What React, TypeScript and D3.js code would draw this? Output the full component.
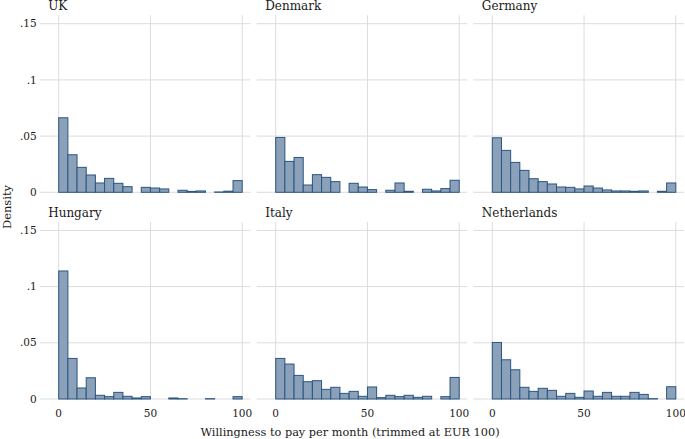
import React from "react";
import * as d3 from "d3";

const countries = ["UK", "Denmark", "Germany", "Hungary", "Italy", "Netherlands"];
const binEdges = d3.range(0, 100, 5);
const xTicks = [0, 50, 100];
const yTicks = [0, 0.05, 0.1, 0.15];
const yTickLabels = ["0", ".05", ".1", ".15"];

const ukValues = [0.0663, 0.0334, 0.0222, 0.0154, 0.0083, 0.0124, 0.008, 0.005, 0, 0.0044, 0.0038, 0.003, 0, 0.0018, 0.0008, 0.0012, 0, 0.0003, 0.001, 0.0104];
const denmarkValues = [0.0488, 0.0275, 0.031, 0.0065, 0.0157, 0.0133, 0.0095, 0, 0.008, 0.0047, 0.0024, 0, 0.0018, 0.0083, 0.0009, 0, 0.0027, 0.0012, 0.0033, 0.0107];
const germanyValues = [0.0485, 0.0373, 0.0266, 0.0195, 0.0121, 0.0095, 0.0074, 0.0047, 0.0044, 0.003, 0.0056, 0.0038, 0.0021, 0.0012, 0.0012, 0.0009, 0.0012, 0, 0.0009, 0.0083];
const hungaryValues = [0.1139, 0.0361, 0.0098, 0.0189, 0.0033, 0.0021, 0.0059, 0.0024, 0.0009, 0.0021, 0, 0, 0.0009, 0.0003, 0, 0, 0.0003, 0, 0, 0.0021];
const italyValues = [0.0361, 0.0311, 0.021, 0.0154, 0.0163, 0.0086, 0.0104, 0.005, 0.0068, 0.0024, 0.0107, 0.0012, 0.0033, 0.0021, 0.0033, 0.0015, 0.0024, 0, 0.0021, 0.0192];
const netherlandsValues = [0.0503, 0.0349, 0.026, 0.0104, 0.0068, 0.0095, 0.0077, 0.0024, 0.005, 0.0015, 0.0071, 0.0024, 0.0059, 0.0024, 0.0024, 0.0059, 0.0041, 0.0003, 0, 0.0109];

const seriesValues = [ukValues, denmarkValues, germanyValues, hungaryValues, italyValues, netherlandsValues];

const FONT = "'DejaVu Serif', serif";
const colX0 = [58.7, 275.7, 492.3];
const rowY0 = [192.3, 399];
const panelW = 183.5;
const panelH = 168.6; // height for .15

function Panel({ idx }: { idx: number }) {
  const col = idx % 3;
  const row = Math.floor(idx / 3);
  const x = d3.scaleLinear().domain([0, 100]).range([colX0[col], colX0[col] + panelW]);
  const y = d3.scaleLinear().domain([0, 0.15]).range([rowY0[row], rowY0[row] - panelH]);
  const values = seriesValues[idx];
  const gx0 = x(0) - 19;
  const gx1 = x(100) + 8;
  const top = y(0.15) - 8.5;
  return (
    <g>
      {yTicks.map((t) => (
        <line key={"h" + t} x1={gx0} x2={gx1} y1={y(t)} y2={y(t)} stroke="#dcdcdc" strokeWidth={1} />
      ))}
      {xTicks.map((t) => (
        <line key={"v" + t} x1={x(t)} x2={x(t)} y1={top} y2={y(0)} stroke="#dcdcdc" strokeWidth={1} />
      ))}
      {values.map((v, i) =>
        v > 0 ? (
          <rect
            key={i}
            x={x(binEdges[i])}
            width={x(binEdges[i] + 5) - x(binEdges[i])}
            y={y(v)}
            height={y(0) - y(v)}
            fill="#8aa1b9"
            stroke="#2b5581"
            strokeWidth={1}
          />
        ) : null
      )}
      <text x={gx0 + 8.5} y={rowY0[row] - 182.5} fontFamily={FONT} fontSize={12} fill="#1a1a1a">
        {countries[idx]}
      </text>
      {col === 0 &&
        yTicks.map((t, i) => (
          <text key={"yl" + t} x={x(0) - 22} y={y(t)} dy="0.35em" textAnchor="end" fontFamily={FONT} fontSize={10.5} fill="#1a1a1a">
            {yTickLabels[i]}
          </text>
        ))}
      {row === 1 &&
        xTicks.map((t) => (
          <text key={"xl" + t} x={x(t)} y={y(0) + 18} textAnchor="middle" fontFamily={FONT} fontSize={10.5} fill="#1a1a1a">
            {t}
          </text>
        ))}
    </g>
  );
}

export default function App() {
  return (
    <svg width={685} height={439} style={{ position: "absolute", left: 0, top: 0, background: "#fff" }}>
      <rect x={0} y={0} width={685} height={439} fill="#fff" />
      {countries.map((c, i) => (
        <Panel key={c} idx={i} />
      ))}
      <text x={350} y={436} textAnchor="middle" fontFamily={FONT} fontSize={11.3} fill="#1a1a1a">
        Willingness to pay per month (trimmed at EUR 100)
      </text>
      <text transform="translate(11,207) rotate(-90)" textAnchor="middle" fontFamily={FONT} fontSize={11.5} fill="#1a1a1a">
        Density
      </text>
    </svg>
  );
}
